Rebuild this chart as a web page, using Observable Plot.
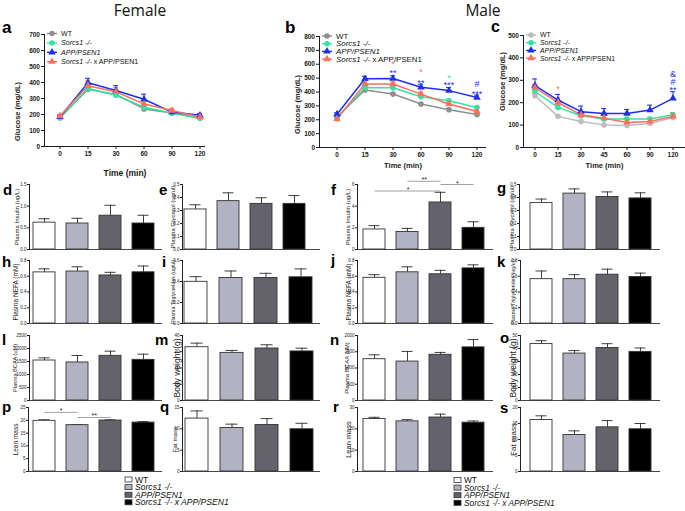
<!DOCTYPE html>
<html><head><meta charset="utf-8">
<script src="https://cdn.jsdelivr.net/npm/d3@7"></script>
<script src="https://cdn.jsdelivr.net/npm/@observablehq/plot@0.6"></script>
<style>
html,body{margin:0;padding:0;background:#fff;overflow:hidden}
#fig{position:relative;width:685px;height:511px;font-family:"Liberation Sans",Arial,sans-serif}
#fig svg{position:absolute;left:0;top:0}
</style></head><body><div id="fig"></div>
<script>
// ---------------- data ----------------
const groups = ["WT", "Sorcs1 -/-", "APP/PSEN1", "Sorcs1 -/- x APP/PSEN1"];
const lineColors = ["#8f8f8f", "#36e2a2", "#1c30ee", "#ff6f5f"];
const lineColorsC = ["#bdbdbd", "#36e2a2", "#1c30ee", "#ff6f5f"];
const barFills = ["#ffffff", "#b3b2c2", "#64636c", "#000000"];
const timesAB = ["0", "15", "30", "60", "90", "120"];
const timesC = ["0", "15", "30", "45", "60", "90", "120"];

// a: female glucose tolerance
const gttF_WT   = [180, 358, 325, 235, 210, 180];
const gttF_S    = [178, 362, 320, 245, 210, 175];
const gttF_APP  = [185, 398, 350, 295, 215, 195];
const gttF_SxA  = [190, 380, 342, 265, 225, 185];
const gttF_WT_e  = [8, 12, 12, 10, 8, 8];
const gttF_S_e   = [8, 12, 12, 12, 8, 8];
const gttF_APP_e = [8, 28, 30, 32, 12, 12];
const gttF_SxA_e = [10, 30, 25, 20, 12, 15];

// b: male glucose tolerance
const gttM_WT   = [222, 415, 385, 313, 272, 238];
const gttM_S    = [215, 430, 430, 366, 337, 288];
const gttM_APP  = [240, 495, 497, 434, 410, 360];
const gttM_SxA  = [205, 458, 458, 385, 313, 259];
const gttM_WT_e  = [8, 10, 10, 10, 10, 10];
const gttM_S_e   = [8, 12, 12, 12, 12, 10];
const gttM_APP_e = [10, 18, 20, 22, 22, 18];
const gttM_SxA_e = [10, 15, 15, 15, 12, 12];
const noteT_B = ["30", "30", "60", "60", "90", "90", "120", "120"];
const noteV_B = [612, 550, 555, 478, 518, 463, 474, 400];
const noteS_B = ["*", "**", "*", "**", "*", "***", "#", "***"];
const noteG_B = [3, 2, 3, 2, 1, 2, 2, 2];

// c: male insulin tolerance
const ittM_WT   = [231, 139, 116, 101, 98, 107, 134];
const ittM_S    = [250, 179, 142, 127, 127, 127, 146];
const ittM_APP  = [276, 212, 160, 152, 152, 167, 219];
const ittM_SxA  = [266, 201, 146, 131, 112, 116, 139];
const ittM_WT_e  = [8, 6, 6, 6, 6, 6, 8];
const ittM_S_e   = [10, 10, 8, 8, 8, 8, 10];
const ittM_APP_e = [30, 25, 25, 22, 18, 22, 30];
const ittM_SxA_e = [15, 20, 12, 12, 12, 12, 15];
const noteT_C = ["15", "120", "120", "120"];
const noteV_C = [268, 337, 301, 264];
const noteS_C = ["*", "&", "#", "**"];
const noteG_C = [3, 2, 2, 2];

// bar panels (mean, sem) — order WT, Sorcs1, APP/PSEN1, Sorcs1 x APP/PSEN1
const insulinF = [0.62, 0.60, 0.78, 0.60],   insulinF_e = [0.09, 0.12, 0.24, 0.19];
const glycerolF = [0.308, 0.372, 0.351, 0.351], glycerolF_e = [0.036, 0.064, 0.047, 0.064];
const insulinM = [1.85, 1.62, 4.34, 2.0],    insulinM_e = [0.35, 0.33, 0.94, 0.56];
const glycerolM = [0.357, 0.43, 0.404, 0.393], glycerolM_e = [0.031, 0.036, 0.039, 0.043];
const nefaF = [0.649, 0.66, 0.61, 0.65],     nefaF_e = [0.045, 0.06, 0.04, 0.08];
const trigF = [0.397, 0.433, 0.433, 0.44],   trigF_e = [0.049, 0.067, 0.045, 0.08];
const nefaM = [0.58, 0.65, 0.625, 0.70],     nefaM_e = [0.04, 0.07, 0.05, 0.045];
const trigM = [0.563, 0.563, 0.62, 0.59],    trigM_e = [0.104, 0.057, 0.07, 0.05];
const bcaaF = [1538, 1462, 1718, 1564],      bcaaF_e = [103, 269, 179, 218];
const bwF = [32.8, 29.3, 32.0, 30.2],        bwF_e = [2.5, 1.5, 2.3, 2.0];
const bcaaM = [1271, 1198, 1406, 1635],      bcaaM_e = [135, 312, 73, 240];
const bwM = [43.4, 36.1, 40.4, 37.4],        bwM_e = [2.6, 2.3, 3.3, 3.0];
const leanF = [19.8, 18.1, 19.9, 19.1],      leanF_e = [0.4, 0.2, 0.3, 0.4];
const fatF = [12.4, 10.2, 10.9, 9.9],        fatF_e = [1.8, 0.9, 1.5, 1.4];
const leanM = [24.6, 23.5, 25.3, 22.9],      leanM_e = [0.8, 0.8, 1.6, 0.8];
const fatM = [16.1, 11.4, 13.8, 13.2],       fatM_e = [1.3, 1.3, 2.1, 1.8];
// significance brackets
const bracketsF_ins = [{a: 0, b: 2, y: 5.4, s: "*"}, {a: 1, b: 2, y: 6.3, s: "**"}, {a: 2, b: 3, y: 6.0, s: "*"}];
const bracketsP_lean = [{a: 0, b: 1, y: 23.1, s: "*"}, {a: 1, b: 2, y: 21.1, s: "**"}];

// ---------------- layout ----------------
const W = 685, H = 511;
const FONT = '"Liberation Sans", Arial, sans-serif';
const PAD = 0.34;
const CAP = 5;
const fig = document.getElementById("fig");

function linePanel(L, times, series, errs, colors, notes) {
  const rows = [];
  series.forEach((s, gi) => s.forEach((v, ti) => rows.push({g: groups[gi], t: times[ti], v, e: errs[gi][ti]})));
  const cy = (L.top + L.bottom) / 2;
  const step = (L.x1 - L.x0) / (times.length - 1);
  return Plot.plot({
    width: W, height: H,
    marginLeft: L.left, marginRight: W - L.right, marginTop: L.top, marginBottom: H - L.bottom,
    style: {background: "transparent", fontFamily: FONT, fontSize: "6.5px", fontWeight: "bold", color: "#1a1a1a", overflow: "visible"},
    x: {type: "band", domain: times, range: [L.x0 - CAP / 2, L.x1 + CAP / 2], paddingInner: 1 - CAP / step, paddingOuter: 0, label: null, tickSize: 3, tickPadding: 2},
    y: {domain: [0, L.ymax], ticks: d3.range(0, L.ymax + 1, 100), tickFormat: d3.format("d"), label: null, tickSize: 3, tickPadding: 1.5, line: true},
    color: {domain: groups, range: colors},
    symbol: {domain: groups, range: ["circle", "circle", "triangle", "triangle"]},
    marks: [
      Plot.ruleY([0], {stroke: "#1a1a1a"}),
      Plot.ruleX(rows, {x: "t", y1: "v", y2: d => d.v + d.e, stroke: "g", strokeWidth: 1}),
      Plot.tickY(rows, {x: "t", y: d => d.v + d.e, stroke: "g", strokeWidth: 1}),
      Plot.line(rows, {x: "t", y: "v", z: "g", stroke: "g", strokeWidth: 1.5}),
      Plot.dot(rows, {x: "t", y: "v", fill: "g", symbol: "g", r: 2.8, stroke: "none"}),
      Plot.text(notes, {x: "t", y: "v", text: "s", fill: "g", fontSize: 9, fontWeight: "normal", dy: 2}),
      Plot.text(["Glucose (mg/dL)"], {text: d => d, frameAnchor: "left", textAnchor: "middle", lineAnchor: "middle", rotate: -90, dx: L.labX - L.left, dy: L.labY - cy, fontSize: 7.5, fontWeight: "bold"}),
      Plot.text(["Time (min)"], {text: d => d, frameAnchor: "bottom", textAnchor: "middle", lineAnchor: "middle", dy: L.timeDy, fontSize: L.timeSize, fontWeight: "bold"})
    ]
  });
}

function makeNotes(T, V, S, G) { return T.map((t, i) => ({t, v: V[i], s: S[i], g: groups[G[i]]})); }

function barPanel(B, means, sems, brackets) {
  const rows = groups.map((g, i) => ({g, v: means[i], e: sems[i]}));
  const step = (B.b1 - B.b0) / (groups.length - PAD);
  const marks = [
    Plot.ruleX(rows, {x: "g", y1: "v", y2: d => d.v + d.e, stroke: "#2a2a2a", strokeWidth: 0.9}),
    Plot.tickY(rows, {x: "g", y: d => d.v + d.e, stroke: "#2a2a2a", strokeWidth: 0.9, inset: 5.5}),
    Plot.barY(rows, {x: "g", y: "v", fill: "g", stroke: "#333", strokeWidth: 0.9}),
    Plot.ruleY([0], {stroke: "#333", strokeWidth: 0.9}),
    Plot.text([B.ylabel], {text: d => d, frameAnchor: "left", textAnchor: "middle", lineAnchor: "middle", rotate: -90, dx: B.labX - B.left, fontSize: B.labSize})
  ];
  (brackets || []).forEach(br => {
    marks.push(Plot.link([br], {x1: d => groups[d.a], x2: d => groups[d.b], y1: "y", y2: "y", stroke: "#888", strokeWidth: 0.8}));
    marks.push(Plot.text([br], {x: d => groups[d.a], y: "y", text: "s", dx: (br.b - br.a) * step / 2, dy: 1, lineAnchor: "bottom", fontSize: 7}));
  });
  return Plot.plot({
    width: W, height: H,
    marginLeft: B.left, marginRight: W - B.right, marginTop: B.top, marginBottom: H - B.bottom,
    style: {background: "transparent", fontFamily: FONT, fontSize: "4.5px", color: "#222", overflow: "visible"},
    x: {type: "band", domain: groups, range: [B.b0, B.b1], paddingInner: PAD, paddingOuter: 0, axis: null},
    y: {domain: [0, B.ymax], ticks: d3.range(0, B.ymax + B.step / 2, B.step), tickFormat: d3.format(B.fmt), label: null, tickSize: 2, tickPadding: 1, line: true},
    color: {domain: groups, range: barFills},
    marks
  });
}

// line panels
fig.appendChild(linePanel(
  {left: 44, right: 205, top: 34, bottom: 146, x0: 58, x1: 200, ymax: 700, labX: 17, labY: 111, timeDy: 27, timeSize: 8.5},
  timesAB, [gttF_WT, gttF_S, gttF_APP, gttF_SxA], [gttF_WT_e, gttF_S_e, gttF_APP_e, gttF_SxA_e], lineColors, []));
fig.appendChild(linePanel(
  {left: 319, right: 486, top: 36, bottom: 147, x0: 336, x1: 477, ymax: 800, labX: 297, labY: 104, timeDy: 18.5, timeSize: 7.5},
  timesAB, [gttM_WT, gttM_S, gttM_APP, gttM_SxA], [gttM_WT_e, gttM_S_e, gttM_APP_e, gttM_SxA_e], lineColors,
  makeNotes(noteT_B, noteV_B, noteS_B, noteG_B)));
fig.appendChild(linePanel(
  {left: 523, right: 685, top: 35, bottom: 147, x0: 534, x1: 672, ymax: 500, labX: 502, labY: 81, timeDy: 18.5, timeSize: 7.5},
  timesC, [ittM_WT, ittM_S, ittM_APP, ittM_SxA], [ittM_WT_e, ittM_S_e, ittM_APP_e, ittM_SxA_e], lineColorsC,
  makeNotes(noteT_C, noteV_C, noteS_C, noteG_C)));

// bar panels
const colA = {left: 29, right: 162, b0: 32, b1: 154};
const colB = {left: 182, right: 320, b0: 184, b1: 310};
const colC = {left: 357, right: 493, b0: 362, b1: 485};
const colD = {left: 520, right: 660, b0: 529, b1: 652};
const row1 = {top: 184, bottom: 249}, row2 = {top: 260, bottom: 323}, row3 = {top: 335, bottom: 400}, row4 = {top: 407, bottom: 471};
const P = (c, r, o) => Object.assign({}, c, r, o);

fig.appendChild(barPanel(P(colA, row1, {ymax: 1.5, step: 0.5, fmt: ".1f", ylabel: "Plasma Insulin (ug/L)", labX: 17, labSize: 6}), insulinF, insulinF_e));
fig.appendChild(barPanel(P(colB, row1, {b0: 183, b1: 305, ymax: 0.5, step: 0.1, fmt: ".1f", ylabel: "Plasma Glycerol (ug/ul)", labX: 173, labSize: 6}), glycerolF, glycerolF_e));
fig.appendChild(barPanel(P(colC, row1, {ymax: 6, step: 2, fmt: "d", ylabel: "Plasma Insulin (ug/L)", labX: 348, labSize: 6}), insulinM, insulinM_e, bracketsF_ins));
fig.appendChild(barPanel(P(colD, row1, {left: 519, ymax: 0.5, step: 0.1, fmt: ".1f", ylabel: "Plasma Glycerol (ug/ul)", labX: 512, labSize: 6}), glycerolM, glycerolM_e));

fig.appendChild(barPanel(P(colA, row2, {ymax: 0.8, step: 0.2, fmt: ".1f", ylabel: "Plasma NEFA (mM)", labX: 15, labSize: 6.5}), nefaF, nefaF_e));
fig.appendChild(barPanel(P(colB, row2, {b0: 184, b1: 313, ymax: 0.6, step: 0.2, fmt: ".1f", ylabel: "Plasma Triglycerides (ug/ul)", labX: 173, labSize: 5.2}), trigF, trigF_e));
fig.appendChild(barPanel(P(colC, row2, {ymax: 0.8, step: 0.2, fmt: ".1f", ylabel: "Plasma NEFA (mM)", labX: 348, labSize: 6.5}), nefaM, nefaM_e));
fig.appendChild(barPanel(P(colD, row2, {ymax: 0.8, step: 0.2, fmt: ".1f", ylabel: "Plasma Triglycerides (ug/ul)", labX: 513, labSize: 5.3}), trigM, trigM_e));

fig.appendChild(barPanel(P(colA, row3, {ymax: 2500, step: 500, fmt: "d", ylabel: "Plasma BCAA (uM)", labX: 15, labSize: 5.6}), bcaaF, bcaaF_e));
fig.appendChild(barPanel(P(colB, row3, {b0: 185, b1: 314, ymax: 40, step: 10, fmt: "d", ylabel: "Body weight (g)", labX: 177, labSize: 8.5}), bwF, bwF_e));
fig.appendChild(barPanel(P(colC, row3, {ymax: 2000, step: 500, fmt: "d", ylabel: "Plasma BCAA (uM)", labX: 347, labSize: 6}), bcaaM, bcaaM_e));
fig.appendChild(barPanel(P(colD, row3, {ymax: 50, step: 10, fmt: "d", ylabel: "Body weight (g)", labX: 513, labSize: 8.5}), bwM, bwM_e));

fig.appendChild(barPanel(P(colA, row4, {left: 28, ymax: 25, step: 5, fmt: "d", ylabel: "Lean mass", labX: 15, labSize: 6.5}), leanF, leanF_e, bracketsP_lean));
fig.appendChild(barPanel(P(colB, row4, {b0: 185, b1: 314, ymax: 15, step: 5, fmt: "d", ylabel: "Fat mass", labX: 175, labSize: 6.2}), fatF, fatF_e));
fig.appendChild(barPanel(P(colC, row4, {ymax: 30, step: 10, fmt: "d", ylabel: "Lean mass", labX: 348, labSize: 7.5}), leanM, leanM_e));
fig.appendChild(barPanel(P(colD, row4, {ymax: 20, step: 5, fmt: "d", ylabel: "Fat mass", labX: 513, labSize: 8}), fatM, fatM_e));

// ---------------- overlay: titles, letters, legends ----------------
const ov = d3.select(fig).append("svg").attr("width", W).attr("height", H).style("overflow", "visible");
ov.append("text").attr("x", 140).attr("y", 15.5).attr("text-anchor", "middle").attr("font-family", '"Open Sans", sans-serif').attr("font-size", 15.5).attr("fill", "#111").text("Female");
ov.append("text").attr("x", 483).attr("y", 15.5).attr("text-anchor", "middle").attr("font-family", '"Open Sans", sans-serif').attr("font-size", 15.5).attr("fill", "#111").text("Male");

const letters = [
  ["a", 2, 33, 17], ["b", 285, 33, 17], ["c", 491, 32, 16],
  ["d", 3, 195, 15], ["e", 159, 195, 15], ["f", 331, 195, 15], ["g", 497, 193, 15],
  ["h", 2, 267, 15], ["i", 162, 267, 15], ["j", 331, 265, 15], ["k", 497, 267, 15],
  ["l", 2, 345, 15], ["m", 155, 345, 15], ["n", 330, 345, 15], ["o", 500, 343, 15],
  ["p", 2, 412, 15], ["q", 160, 412, 15], ["r", 333, 412, 15], ["s", 500, 413, 15]
];
letters.forEach(([t, x, y, fs]) => ov.append("text").attr("x", x).attr("y", y).attr("font-family", FONT).attr("font-weight", "bold").attr("font-size", fs).attr("fill", "#000").text(t));

function labelParts(g, allItalic) {
  if (g === "WT") return [{t: "WT", i: false}];
  if (g.includes(" x ")) {
    const [a, b] = g.split(" x ");
    return [{t: a, i: true}, {t: " x " + b, i: allItalic}];
  }
  return [{t: g, i: true}];
}

function lineLegend(x, y0, dy, fs, colors) {
  const syms = [d3.symbolCircle, d3.symbolCircle, d3.symbolTriangle, d3.symbolTriangle];
  groups.forEach((g, i) => {
    const y = y0 + i * dy;
    ov.append("line").attr("x1", x - 5).attr("x2", x + 5).attr("y1", y).attr("y2", y).attr("stroke", colors[i]).attr("stroke-width", 1.4);
    ov.append("path").attr("d", d3.symbol(syms[i], 24)()).attr("transform", `translate(${x},${y})`).attr("fill", colors[i]);
    const t = ov.append("text").attr("x", x + 9).attr("y", y).attr("dy", "0.35em").attr("font-family", FONT).attr("font-size", fs).attr("fill", "#111");
    labelParts(g, false).forEach(p => t.append("tspan").attr("font-style", p.i ? "italic" : "normal").text(p.t));
  });
}
lineLegend(52, 33.5, 9.4, 7.1, lineColors);
lineLegend(327, 36, 7.7, 7.9, lineColors);
lineLegend(531, 35, 7.7, 6.9, lineColorsC);

function barLegend(x, y0, dy, fs) {
  groups.forEach((g, i) => {
    const y = y0 + i * dy;
    ov.append("rect").attr("x", x).attr("y", y - 2.5).attr("width", 7).attr("height", 5).attr("fill", barFills[i]).attr("stroke", "#333").attr("stroke-width", 0.8);
    const t = ov.append("text").attr("x", x + 10).attr("y", y).attr("dy", "0.35em").attr("font-family", FONT).attr("font-size", fs).attr("fill", "#111");
    labelParts(g, true).forEach(p => t.append("tspan").attr("font-style", p.i ? "italic" : "normal").text(p.t));
  });
}
barLegend(125, 479.5, 7.6, 8.6);
barLegend(454, 480, 7.6, 8.3);
</script></body></html>
